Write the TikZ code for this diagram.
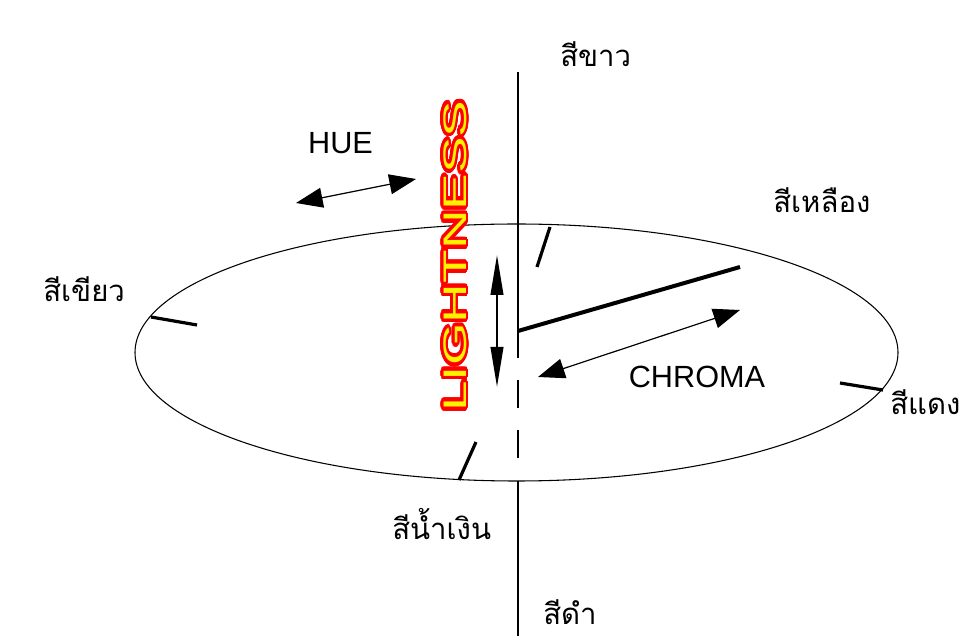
\documentclass[tikz,border=0pt]{standalone}
\usepackage{fontspec}
\setmainfont{Liberation Sans}
\newfontfamily\thai[Script=Thai]{Loma}
\usepackage{contour}
\contourlength{1.7pt}
\contournumber{32}
\usetikzlibrary{arrows.meta}
\tikzset{
  lbl/.style={inner sep=0pt, anchor=base west, font=\thai\fontsize{22}{26}\selectfont},
  eng/.style={inner sep=0pt, font=\fontsize{23}{27}\selectfont},
  axis/.style={line width=1pt},
  tick/.style={line width=2.4pt},
  radius/.style={line width=3pt},
  dbl/.style={line width=0.9pt, {Triangle[length=20pt,width=15pt]}-{Triangle[length=20pt,width=15pt]}},
  vdbl/.style={line width=1.4pt, {Triangle[length=30pt,width=9.5pt]}-{Triangle[length=30pt,width=9.5pt]}}
}
\begin{document}
\begin{tikzpicture}[x=0.75pt,y=-0.75pt]
\fill[white] (0,0) rectangle (965,641);
\useasboundingbox (0,0) rectangle (965,641);
% ellipse
\draw[line width=0.8pt] (516.5,352.5) ellipse [x radius=381.5, y radius=128.5];
% vertical axis
\coordinate (a1) at (518,72);
\coordinate (a2) at (518,358);
\coordinate (a3) at (518,380);
\coordinate (a4) at (518,408);
\coordinate (a5) at (518,430);
\coordinate (a6) at (518,458);
\coordinate (a7) at (518,481);
\coordinate (a8) at (518,636);
\draw[axis] (a1) -- (a2);
\draw[axis] (a3) -- (a4);
\draw[axis] (a5) -- (a6);
\draw[axis] (a7) -- (a8);
% ticks
\coordinate (tl1) at (151,317); \coordinate (tl2) at (197,325);
\coordinate (tr1) at (840,383); \coordinate (tr2) at (883,390);
\coordinate (tb1) at (459,480); \coordinate (tb2) at (476,442);
\coordinate (tt1) at (537,267); \coordinate (tt2) at (550,227);
\draw[tick] (tl1) -- (tl2);
\draw[tick] (tr1) -- (tr2);
\draw[tick] (tb1) -- (tb2);
\draw[tick] (tt1) -- (tt2);
% radius
\coordinate (r1) at (518,331); \coordinate (r2) at (740,267);
\draw[radius] (r1) -- (r2);
% chroma arrow
\coordinate (c1) at (538,377); \coordinate (c2) at (740,310);
\draw[dbl] (c1) -- (c2);
% hue arrow
\coordinate (h1) at (296,203); \coordinate (h2) at (416,179);
\draw[dbl] (h1) -- (h2);
% lightness arrow
\coordinate (l1) at (497,255); \coordinate (l2) at (497,387);
\draw[vdbl] (l1) -- (l2);
% english labels
\node[eng] (hue) at (340.5,143) {HUE};
\node[eng] (chroma) at (697,377) {CHROMA};
\node[inner sep=0pt, rotate=90] (light) at (456,256)
  {\scalebox{1.68}[1]{\fontsize{24.5}{28}\selectfont\contour{red}{\textcolor{yellow}{LIGHTNESS}}}};
% thai labels
\node[lbl] (white) at (560,67) {สีขาว};
\node[lbl] (yellow) at (773,213) {สีเหลือง};
\node[lbl] (green) at (43,302) {สีเขียว};
\node[lbl] (red) at (890,415) {สีแดง};
\node[lbl] (blue) at (392,540) {สีน้ำเงิน};
\node[lbl] (black) at (543,625) {สีดำ};
\end{tikzpicture}
\end{document}
